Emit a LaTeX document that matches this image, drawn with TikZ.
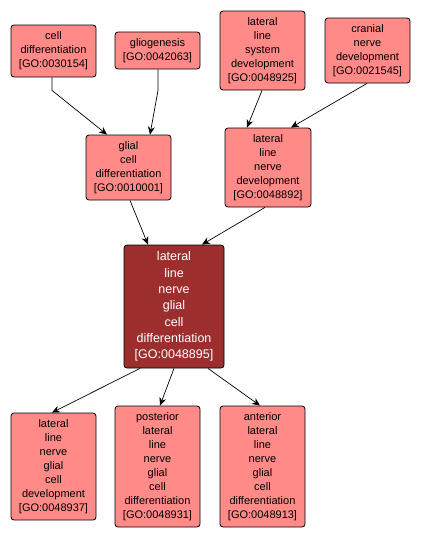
\documentclass[tikz,border=0pt]{standalone}
\usepackage{fontspec}
\setmainfont{Liberation Sans}
\usetikzlibrary{arrows.meta}
\definecolor{lightgo}{RGB}{255,138,136}
\definecolor{darkgo}{RGB}{156,46,46}
\begin{document}
\begin{tikzpicture}[x=1pt,y=-1pt,
  goterm/.style={draw=black,line width=0.8pt,rounded corners=3pt,fill=lightgo,
    align=center,font=\fontsize{11}{14}\selectfont,inner sep=0pt},
  gomain/.style={goterm,fill=darkgo,text=white,font=\fontsize{12.5}{16.3}\selectfont},
  edge/.style={draw=black,line width=0.7pt,-{Stealth[length=8pt,width=7pt]}}]
\useasboundingbox (0,0) rectangle (421,541);
\fill[white] (0,0) rectangle (421,541);
\node[goterm,minimum width=85pt,minimum height=52pt] (cd) at (53.5,51) {cell\\differentiation\\{[GO:0030154]}};
\node[goterm,minimum width=85pt,minimum height=37pt] (gl) at (157.5,50.5) {gliogenesis\\{[GO:0042063]}};
\node[goterm,minimum width=85pt,minimum height=79pt] (llsd) at (262.5,50.5) {lateral\\line\\system\\development\\{[GO:0048925]}};
\node[goterm,minimum width=85pt,minimum height=65pt] (cnd) at (367.5,50.5) {cranial\\nerve\\development\\{[GO:0021545]}};
\node[goterm,minimum width=85pt,minimum height=65pt] (gcd) at (128.5,167.5) {glial\\cell\\differentiation\\{[GO:0010001]}};
\node[goterm,minimum width=86pt,minimum height=79pt] (llnd) at (268,167.5) {lateral\\line\\nerve\\development\\{[GO:0048892]}};
\node[gomain,minimum width=100pt,minimum height=123pt] (c) at (174,306.5) {lateral\\line\\nerve\\glial\\cell\\differentiation\\{[GO:0048895]}};
\node[goterm,minimum width=85pt,minimum height=107pt] (b1) at (53.5,466.5) {lateral\\line\\nerve\\glial\\cell\\development\\{[GO:0048937]}};
\node[goterm,minimum width=85pt,minimum height=121pt] (b2) at (157.5,466.5) {posterior\\lateral\\line\\nerve\\glial\\cell\\differentiation\\{[GO:0048931]}};
\node[goterm,minimum width=85pt,minimum height=121pt] (b3) at (262.5,466.5) {anterior\\lateral\\line\\nerve\\glial\\cell\\differentiation\\{[GO:0048913]}};
\draw[edge] ([xshift=-1.5pt]cd.south) -- ++(0,13) -- ([xshift=-21.5pt]gcd.north);
\draw[edge] ([xshift=0.5pt]gl.south) -- ++(0,21) -- ([xshift=21.5pt]gcd.north);
\draw[edge] ([xshift=-0.5pt]llsd.south) -- ([xshift=-21pt]llnd.north);
\draw[edge] ([xshift=-0.5pt]cnd.south) -- ([xshift=23pt]llnd.north);
\draw[edge] ([xshift=1.5pt]gcd.south) -- ([xshift=-26pt]c.north);
\draw[edge] ([xshift=-3pt]llnd.south) -- ([xshift=28pt]c.north);
\draw[edge] ([xshift=-34pt]c.south) -- ([xshift=-1.5pt]b1.north);
\draw[edge] (c.south) -- ([xshift=2.5pt]b2.north);
\draw[edge] ([xshift=34pt]c.south) -- ([xshift=-2.5pt]b3.north);
\end{tikzpicture}
\end{document}
